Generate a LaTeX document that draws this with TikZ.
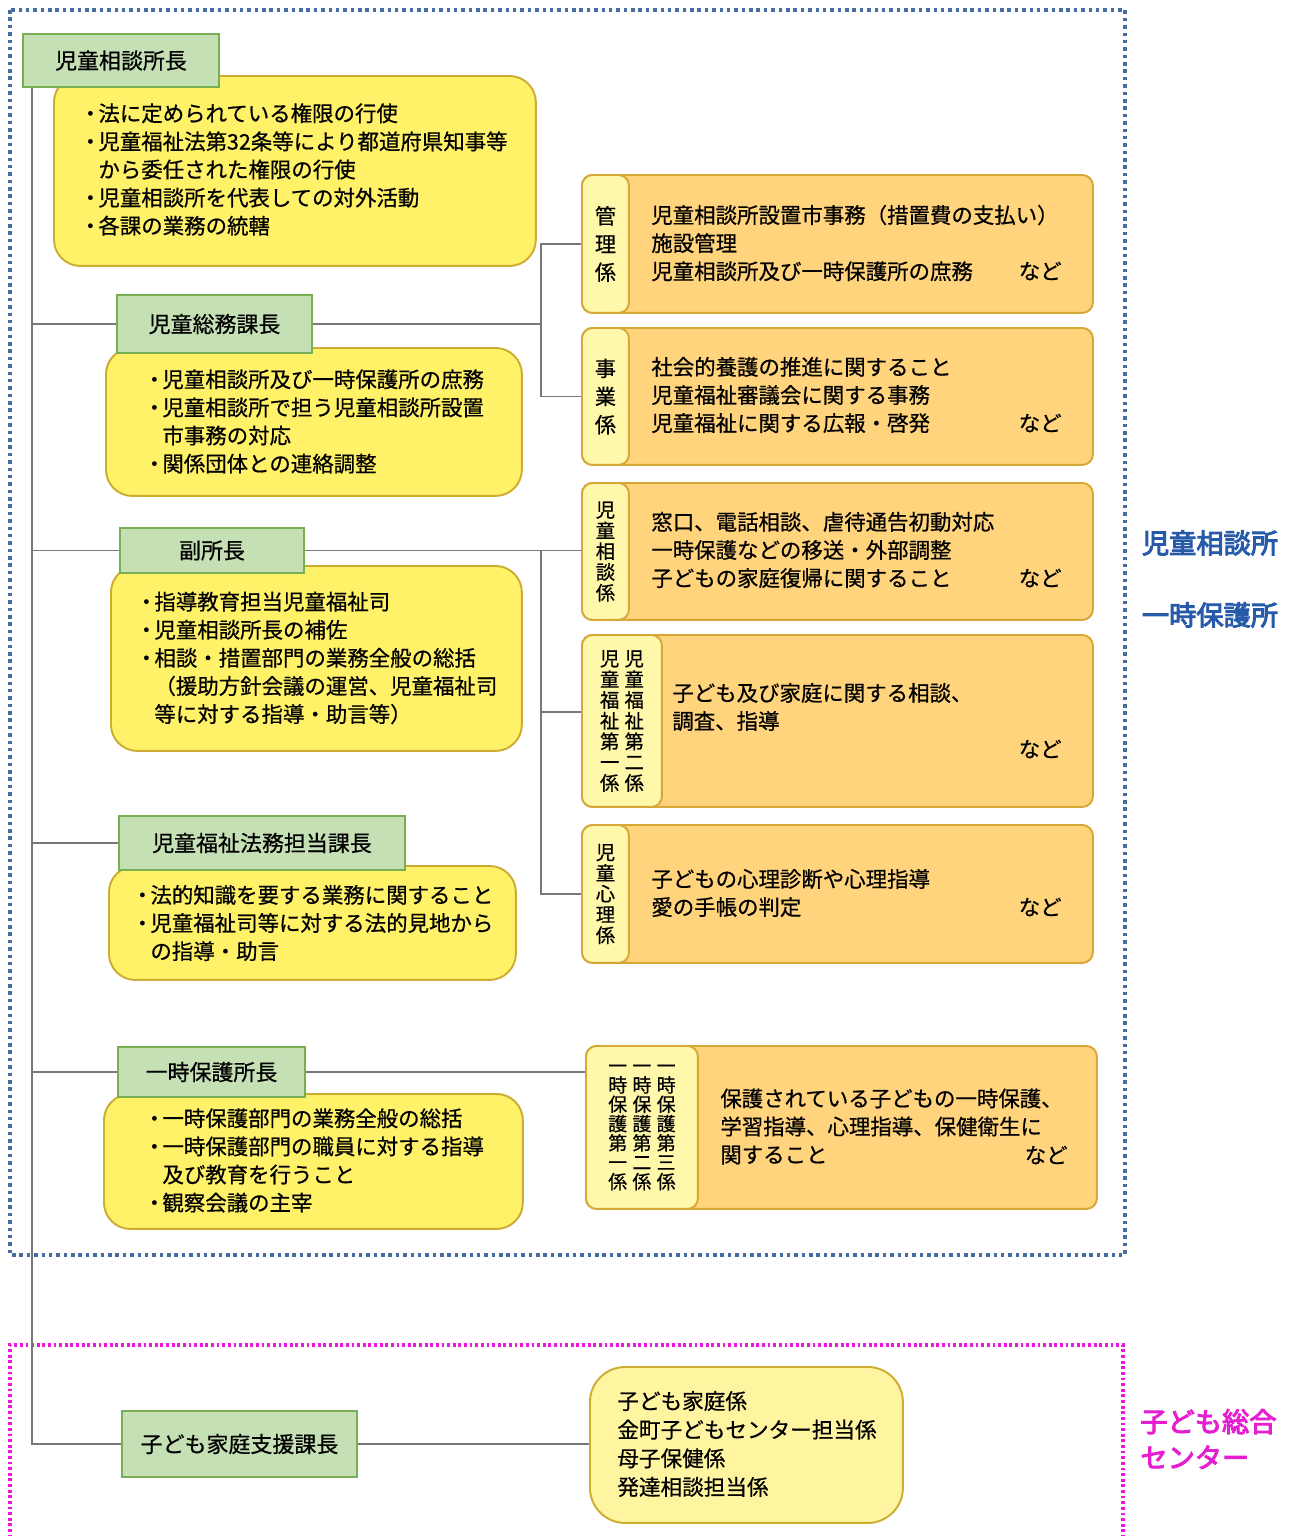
\documentclass[tikz,border=0pt]{standalone}
\usepackage{fontspec}
\setmainfont[FakeBold=0.6]{Noto Sans CJK JP}
\newfontfamily\jpbold[FakeBold=3.5]{Noto Sans CJK JP}
\usetikzlibrary{calc}
\definecolor{grnF}{RGB}{197,224,180}
\definecolor{grnB}{RGB}{120,175,85}
\definecolor{yelF}{RGB}{255,241,104}
\definecolor{yelL}{RGB}{255,245,160}
\definecolor{yelB}{RGB}{205,172,50}
\definecolor{orgF}{RGB}{255,212,125}
\definecolor{orgB}{RGB}{215,168,55}
\definecolor{labF}{RGB}{255,247,170}
\definecolor{lineC}{RGB}{120,120,120}
\definecolor{dotB}{RGB}{70,108,160}
\definecolor{txtB}{RGB}{40,90,170}
\definecolor{dotM}{RGB}{240,20,220}
\definecolor{txtM}{RGB}{230,30,210}
\newcommand\bu{\makebox[0.75em][c]{・}}
\newcommand\ind{\hspace*{0.75em}}
\begin{document}
\begin{tikzpicture}[x=0.02cm,y=-0.02cm,
  grn/.style={draw=grnB, fill=grnF, line width=1.1pt, inner sep=0pt, font=\fontsize{12.5}{15}\selectfont},
  yel/.style={draw=yelB, fill=yelF, line width=1.1pt, rounded corners=15pt, inner sep=0pt, anchor=north west},
  org/.style={draw=orgB, fill=orgF, line width=1.1pt, rounded corners=6pt, inner sep=0pt, anchor=north west, minimum width=10.22cm},
  lab/.style={draw=orgB, fill=labF, line width=1.1pt, rounded corners=6pt, inner sep=0pt, anchor=north west, align=center},
  txt/.style={anchor=west, align=left, inner sep=0pt, font=\fontsize{12.2}{16}\selectfont},
  nado/.style={anchor=east, inner sep=0pt, font=\fontsize{12.2}{16}\selectfont},
  conn/.style={draw=lineC, line width=0.9pt},
  vbig/.style={font=\fontsize{12}{16}\selectfont},
  vsmall/.style={font=\fontsize{11}{11.8}\selectfont},
  vtiny/.style={font=\fontsize{10.8}{11}\selectfont},
]
\useasboundingbox (0,0) rectangle (1289,1536);

% region frames
\draw[dotB, line width=2.2pt, dash pattern=on 2pt off 2.2pt] (10,10) rectangle (1125,1255);
\draw[dotM, line width=2pt, dash pattern=on 1.6pt off 1.6pt] (10,1560) -- (10,1345) -- (1123,1345) -- (1123,1560);

% side labels
\node[text=txtB, font=\jpbold\fontsize{15.5}{20}\selectfont, inner sep=0pt] (rA) at (1210,543) {児童相談所};
\node[text=txtB, font=\jpbold\fontsize{15.5}{20}\selectfont, inner sep=0pt] (rB) at (1210,615) {一時保護所};
\node[text=txtM, font=\jpbold\fontsize{15.5}{20.4}\selectfont, inner sep=0pt, anchor=west, align=left] (rC) at (1140,1439) {子ども総合\\センター};

% yellow duty boxes
\node[yel, minimum width=9.64cm, minimum height=3.8cm] (y1) at (53,75) {};
\node[yel, minimum width=8.32cm, minimum height=2.96cm] (y2) at (105,347) {};
\node[yel, minimum width=8.22cm, minimum height=3.7cm] (y3) at (110,565) {};
\node[yel, minimum width=8.14cm, minimum height=2.28cm] (y4) at (108,865) {};
\node[yel, minimum width=8.38cm, minimum height=2.7cm] (y5) at (103,1093) {};
\node[yel, fill=yelL, rounded corners=20pt, minimum width=6.26cm, minimum height=3.12cm] (y6) at (589,1366) {};

\node[txt] (t1) at (82,169.5) {\bu 法に定められている権限の行使\\\bu 児童福祉法第32条等により都道府県知事等\\\ind から委任された権限の行使\\\bu 児童相談所を代表しての対外活動\\\bu 各課の業務の統轄};
\node[txt] (t2) at (146,421.5) {\bu 児童相談所及び一時保護所の庶務\\\bu 児童相談所で担う児童相談所設置\\\ind 市事務の対応\\\bu 関係団体との連絡調整};
\node[txt] (t3) at (138,658) {\bu 指導教育担当児童福祉司\\\bu 児童相談所長の補佐\\\bu 相談・措置部門の業務全般の総括\\\ind （援助方針会議の運営、児童福祉司\\\ind 等に対する指導・助言等）};
\node[txt] (t4) at (134,923) {\bu 法的知識を要する業務に関すること\\\bu 児童福祉司等に対する法的見地から\\\ind の指導・助言};
\node[txt] (t5) at (146,1160.5) {\bu 一時保護部門の業務全般の総括\\\bu 一時保護部門の職員に対する指導\\\ind 及び教育を行うこと\\\bu 観察会議の主宰};
\node[txt, font=\fontsize{12.3}{16.3}\selectfont] (t6) at (617,1444) {子ども家庭係\\金町子どもセンター担当係\\母子保健係\\発達相談担当係};

% green head boxes
\node[grn, minimum width=3.92cm, minimum height=1.06cm] (chief) at (121,60.5) {児童相談所長};
\node[grn, minimum width=3.9cm, minimum height=1.16cm] (soumu) at (214.5,324) {児童総務課長};
\node[grn, minimum width=3.68cm, minimum height=0.9cm] (fuku) at (212,550.5) {副所長};
\node[grn, minimum width=5.72cm, minimum height=1.08cm] (houmu) at (262,843) {児童福祉法務担当課長};
\node[grn, minimum width=3.74cm, minimum height=1.0cm] (ichiji) at (211.5,1072) {一時保護所長};
\node[grn, minimum width=4.7cm, minimum height=1.32cm] (kodomo) at (239.5,1444) {子ども家庭支援課長};

% orange section boxes
\node[org, minimum height=2.76cm] (kanri) at (581,174) {};
\node[lab, vbig, minimum width=0.94cm, minimum height=2.76cm] (kanriL) at (581,174) {管\\理\\係};
\node[txt] (kanriT) at (651,243) {児童相談所設置市事務（措置費の支払い）\\施設管理\\児童相談所及び一時保護所の庶務};
\node[nado] (kanriN) at (1062,271) {など};

\node[org, minimum height=2.74cm] (jigyo) at (581,327) {};
\node[lab, vbig, minimum width=0.94cm, minimum height=2.74cm] (jigyoL) at (581,327) {事\\業\\係};
\node[txt] (jigyoT) at (651,395) {社会的養護の推進に関すること\\児童福祉審議会に関する事務\\児童福祉に関する広報・啓発};
\node[nado] (jigyoN) at (1062,423) {など};

\node[org, minimum height=2.74cm] (soudan) at (581,482) {};
\node[lab, vsmall, minimum width=0.94cm, minimum height=2.74cm] (soudanL) at (581,482) {児\\童\\相\\談\\係};
\node[txt] (soudanT) at (651,550) {窓口、電話相談、虐待通告初動対応\\一時保護などの移送・外部調整\\子どもの家庭復帰に関すること};
\node[nado] (soudanN) at (1062,578) {など};

\node[org, minimum height=3.44cm] (fukushi) at (581,634) {};
\node[lab, vsmall, minimum width=1.6cm, minimum height=3.44cm] (fukushiL) at (581,634) {児\hspace{3pt}児\\童\hspace{3pt}童\\福\hspace{3pt}福\\祉\hspace{3pt}祉\\第\hspace{3pt}第\\一\hspace{3pt}二\\係\hspace{3pt}係};
\node[txt] (fukushiT) at (672,707) {子ども及び家庭に関する相談、\\調査、指導};
\node[nado] (fukushiN) at (1062,749) {など};

\node[org, minimum height=2.76cm] (shinri) at (581,824) {};
\node[lab, vsmall, minimum width=0.94cm, minimum height=2.76cm] (shinriL) at (581,824) {児\\童\\心\\理\\係};
\node[txt] (shinriT) at (651,893) {子どもの心理診断や心理指導\\愛の手帳の判定};
\node[nado] (shinriN) at (1062,907) {など};

\node[org, minimum height=3.26cm] (hogo) at (585,1045) {};
\node[lab, vtiny, minimum width=2.24cm, minimum height=3.26cm] (hogoL) at (585,1045) {一\hspace{3pt}一\hspace{3pt}一\\時\hspace{3pt}時\hspace{3pt}時\\保\hspace{3pt}保\hspace{3pt}保\\護\hspace{3pt}護\hspace{3pt}護\\第\hspace{3pt}第\hspace{3pt}第\\一\hspace{3pt}二\hspace{3pt}三\\係\hspace{3pt}係\hspace{3pt}係};
\node[txt] (hogoT) at (720,1126.5) {保護されている子どもの一時保護、\\学習指導、心理指導、保健衛生に\\関すること};
\node[nado] (hogoN) at (1068,1155) {など};

% connectors
\coordinate (tx) at (32,0);
\coordinate (b1) at (541,0);
\coordinate (fkin) at ($(fukushi.west)+(0,-9)$);
\draw[conn] (chief.south -| tx) -- (tx |- kodomo.west) -- (kodomo.west);
\draw[conn] (tx |- soumu.west) -- (soumu.west);
\draw[conn] (soumu.east) -- (b1 |- soumu.east);
\draw[conn] (kanri.west) -- (b1 |- kanri.west) -- (b1 |- jigyo.west) -- (jigyo.west);
\draw[conn] (tx |- fuku.west) -- (fuku.west);
\draw[conn] (fuku.east) -- (fuku.east -| soudan.west);
\draw[conn] (b1 |- soudan.west) -- (b1 |- shinri.west) -- (shinri.west);
\draw[conn] (b1 |- fkin) -- (fkin);
\draw[conn] (tx |- houmu.west) -- (houmu.west);
\draw[conn] (tx |- ichiji.west) -- (ichiji.west);
\draw[conn] (ichiji.east) -- (ichiji.east -| hogo.west);
\draw[conn] (kodomo.east) -- (kodomo.east -| y6.west);
\end{tikzpicture}
\end{document}
